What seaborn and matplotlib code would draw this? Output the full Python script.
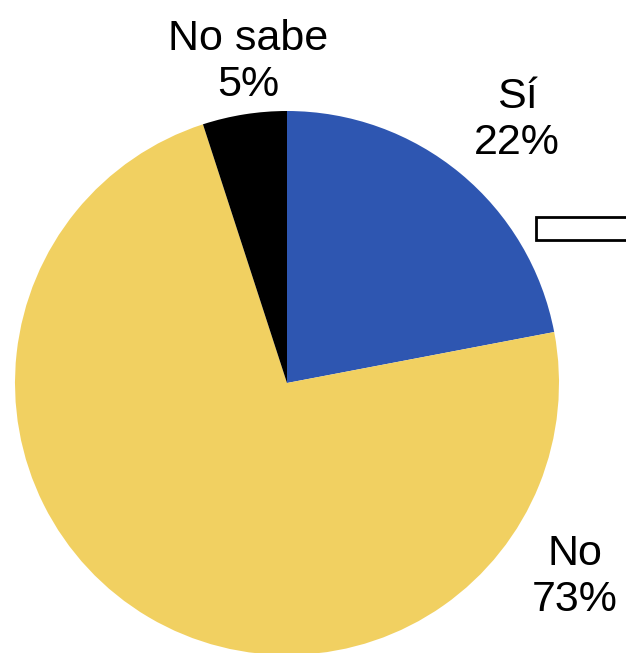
import matplotlib
matplotlib.use('Agg')
import matplotlib.pyplot as plt
import matplotlib.patches as mpatches
import seaborn as sns

labels = ['Sí', 'No', 'No sabe']
values = [22, 73, 5]
colors = ['#2E56B1', '#F1D061', '#000000']

sns.set_theme(style='white')
plt.rcParams['font.family'] = ['Liberation Sans', 'DejaVu Sans']

fig = plt.figure(figsize=(6.26, 6.53), dpi=100)
ax = fig.add_axes([0, 0, 1, 1])
ax.axis('off')

# pie centre and radius in pixel units (y measured from bottom)
ax.pie(values, colors=sns.color_palette(colors), startangle=90, counterclock=False,
       center=(287, 270), radius=272, wedgeprops=dict(linewidth=0))
ax.set_xlim(0, 626)
ax.set_ylim(0, 653)
ax.set_aspect('auto')

label_pos = {'Sí': (517, 533), 'No': (575, 76), 'No sabe': (248, 591)}
for lab, val in zip(labels, values):
    x, y = label_pos[lab]
    ax.text(x, y, f'{lab}\n{val}%', ha='center', va='center', fontsize=31,
            color='black', linespacing=1.17)

# partially visible legend box at the right edge
ax.add_patch(mpatches.Rectangle((536, 413), 110, 23, facecolor='white',
                                edgecolor='black', linewidth=2, clip_on=True))

fig.savefig('out.png', dpi=100)
